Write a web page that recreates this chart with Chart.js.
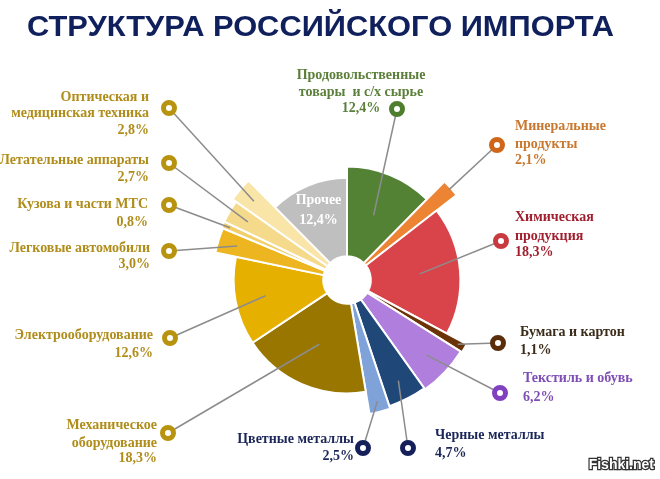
<!DOCTYPE html>
<html>
<head>
<meta charset="utf-8">
<script src="https://cdn.jsdelivr.net/npm/chart.js"></script>
<style>
  html, body { margin: 0; padding: 0; background: #fff; }
  canvas { display: block; }
</style>
</head>
<body>
<canvas id="chart" width="660" height="479"></canvas>
<script>
const title = "СТРУКТУРА РОССИЙСКОГО ИМПОРТА";

// clockwise from 12 o'clock
const categories = [
    ["Продовольственные", "товары  и с/х сырье"],
    ["Минеральные", "продукты"],
    ["Химическая", "продукция"],
    ["Бумага и картон"],
    ["Текстиль и обувь"],
    ["Черные металлы"],
    ["Цветные металлы"],
    ["Механическое", "оборудование"],
    ["Электрооборудование"],
    ["Легковые автомобили"],
    ["Кузова и части МТС"],
    ["Летательные аппараты"],
    ["Оптическая и", "медицинская техника"],
    ["Прочее"]
];
const shares = [12.4, 2.1, 18.3, 1.1, 6.2, 4.7, 2.5, 18.3, 12.6, 3.0, 0.8, 2.7, 2.8, 12.4];
// relative length of each slice (longest = 1)
const reach = [0.81, 0.99, 0.81, 0.97, 0.96, 0.95, 0.97, 0.81, 0.81, 0.96, 0.97, 0.97, 1.0, 0.73];

const sliceColors = ["#548235", "#ED8434", "#D9434A", "#6B3408", "#B07FDD", "#1F4778", "#7FA3D9",
    "#987600", "#E5B000", "#EDB620", "#F3CF6B", "#F6DA8C", "#F9E5A8", "#BFBFBF"];
const textColors = ["#5B7F3A", "#C8782E", "#A01E2E", "#3B2C1A", "#7E4DB5", "#1C2759", "#1C2759",
    "#B08D1A", "#B08D1A", "#B08D1A", "#B08D1A", "#B08D1A", "#B08D1A", "#FFFFFF"];
const ringColors = ["#4F7F2E", "#D0661A", "#C83A40", "#5A2E0A", "#8040C0", "#15205A", "#15205A",
    "#B8930F", "#B8930F", "#B8930F", "#B8930F", "#B8930F", "#B8930F", null];

// label placement: ring marker, text anchor, line baselines, leader start radius (px)
const labelLayout = [
    { mx: 397, my: 109, tx: 361, ty: [75, 92, 108], align: "center", lr: 70 },
    { mx: 497, my: 145, tx: 515, ty: [126, 144, 160], align: "left", lr: 136 },
    { mx: 501, my: 241, tx: 515, ty: [217, 236, 252], align: "left", lr: 73 },
    { mx: 498, my: 343, tx: 520, ty: [332, 350], align: "left", lr: 128 },
    { mx: 500, my: 393, tx: 523, ty: [378, 397], align: "left", lr: 109 },
    { mx: 408, my: 448, tx: 435, ty: [435, 453], align: "left", lr: 113 },
    { mx: 363, my: 448, tx: 354, ty: [439, 456], align: "right", lr: 125 },
    { mx: 168, my: 433, tx: 157, ty: [425, 443, 458], align: "right", lr: 70 },
    { mx: 170, my: 338, tx: 153, ty: [335, 353], align: "right", lr: 83 },
    { mx: 169, my: 251, tx: 150, ty: [248, 264], align: "right", lr: 115 },
    { mx: 169, my: 205, tx: 148, ty: [204, 222], align: "right", lr: 128 },
    { mx: 169, my: 163, tx: 149, ty: [160, 177], align: "right", lr: 115 },
    { mx: 169, my: 108, tx: 149, ty: [97, 113, 130], align: "right", lr: 122 },
    { inside: true, lr: 75 }
];

const fmt = v => v.toFixed(1).replace(".", ",") + "%";

// each slice gets its own outer radius
const reachPlugin = {
    id: "reach",
    afterDatasetsUpdate(chart) {
        const meta = chart.getDatasetMeta(0);
        const area = chart.chartArea;
        const maxR = Math.min(area.right - area.left, area.bottom - area.top) / 2;
        meta.data.forEach((arc, i) => {
            arc.outerRadius = maxR * reach[i];
            arc.innerRadius = maxR * 0.17;
        });
    }
};

const labelPlugin = {
    id: "labels",
    afterDraw(chart) {
        const ctx = chart.ctx;
        const meta = chart.getDatasetMeta(0);
        ctx.save();

        // title
        ctx.font = 'bold 29px "Liberation Sans", Arial, sans-serif';
        ctx.fillStyle = "#10205C";
        ctx.textBaseline = "middle";
        ctx.textAlign = "left";
        const tw = ctx.measureText(title).width;
        ctx.save();
        ctx.translate(27, 28);
        ctx.scale(587 / tw, 1);
        ctx.fillText(title, 0, 0);
        ctx.restore();

        meta.data.forEach((arc, i) => {
            const L = labelLayout[i];
            const mid = (arc.startAngle + arc.endAngle) / 2;
            const sx = arc.x + Math.cos(mid) * L.lr;
            const sy = arc.y + Math.sin(mid) * L.lr;
            const lines = categories[i].concat([fmt(shares[i])]);
            ctx.font = 'bold 14px "Liberation Serif", "Times New Roman", serif';
            ctx.textBaseline = "middle";
            ctx.fillStyle = textColors[i];
            if (L.inside) {
                ctx.textAlign = "center";
                ctx.fillText(lines[0], sx, sy - 10);
                ctx.fillText(lines[1], sx, sy + 10);
                return;
            }
            ctx.strokeStyle = "#8C8C8C";
            ctx.lineWidth = 1.5;
            ctx.beginPath();
            ctx.moveTo(sx, sy);
            ctx.lineTo(L.mx, L.my);
            ctx.stroke();

            ctx.beginPath();
            ctx.arc(L.mx, L.my, 5.5, 0, Math.PI * 2);
            ctx.fillStyle = "#fff";
            ctx.fill();
            ctx.lineWidth = 5;
            ctx.strokeStyle = ringColors[i];
            ctx.stroke();

            ctx.fillStyle = textColors[i];
            ctx.textAlign = L.align;
            lines.forEach((t, k) => ctx.fillText(t, L.tx, L.ty[k]));
        });

        // watermark
        ctx.font = 'bold 14px "Liberation Sans", Arial, sans-serif';
        ctx.textAlign = "right";
        ctx.lineWidth = 2.5;
        ctx.strokeStyle = "#333";
        ctx.strokeText("Fishki.net", 654, 465);
        ctx.fillStyle = "#fff";
        ctx.fillText("Fishki.net", 654, 465);
        ctx.restore();
    }
};

new Chart(document.getElementById("chart"), {
    type: "doughnut",
    data: {
        labels: categories.map(c => c.join(" ")),
        datasets: [{
            data: shares,
            backgroundColor: sliceColors,
            borderColor: "#fff",
            borderWidth: 2
        }]
    },
    options: {
        responsive: false,
        animation: false,
        cutout: "17%",
        layout: { padding: { left: 207, right: 173, top: 140, bottom: 59 } },
        plugins: {
            legend: { display: false },
            tooltip: { enabled: false }
        }
    },
    plugins: [reachPlugin, labelPlugin]
});
</script>
</body>
</html>
